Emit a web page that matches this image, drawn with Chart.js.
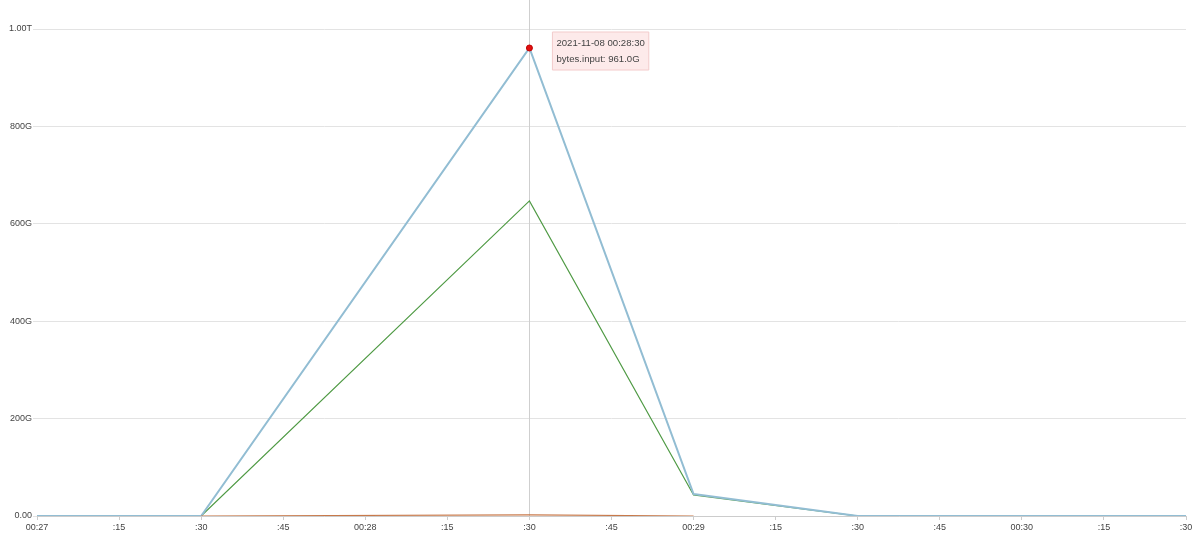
<!DOCTYPE html>
<html>
<head>
<meta charset="utf-8">
<script src="https://cdn.jsdelivr.net/npm/chart.js@4/dist/chart.umd.min.js"></script>
<style>
  html, body { margin: 0; padding: 0; background: #fff; }
  #wrap { width: 1200px; height: 552px; }
</style>
</head>
<body>
<div id="wrap"><canvas id="myChart" width="1200" height="552"></canvas></div>
<script>
// seconds after 00:27:00
const inputTimes = [0, 30, 90, 120, 150, 210];
const inputValues = [0, 0, 961, 45, 0, 0];      // bytes.input (G)
const greenTimes = [30, 90, 120, 150];
const greenValues = [0, 647, 43, 0];
const orangeTimes = [30, 90, 120];
const orangeValues = [0, 2.5, 0];

const tickLabels = ['00:27', ':15', ':30', ':45', '00:28', ':15', ':30', ':45',
                    '00:29', ':15', ':30', ':45', '00:30', ':15', ':30'];
const yTickLabels = { 0: '0.00', 200: '200G', 400: '400G', 600: '600G', 800: '800G', 1000: '1.00T' };
const tipTitle = '2021-11-08 00:28:30';
const tipLabel = 'bytes.input: 961.0G';

function toPoints(times, values) {
    return times.map((t, i) => ({ x: t, y: values[i] }));
}

Chart.Tooltip.positioners.beside = function(items) {
    if (!items.length) return false;
    const el = items[0].element;
    return { x: el.x + 23, y: el.y - 16 };
};

// vertical line at the hovered point
const crosshair = {
    id: 'crosshair',
    beforeDatasetsDraw(chart) {
        const act = chart.getActiveElements();
        if (!act.length) return;
        const x = act[0].element.x;
        const ctx = chart.ctx;
        ctx.save();
        ctx.strokeStyle = '#cfcfcf';
        ctx.lineWidth = 1;
        ctx.beginPath();
        ctx.moveTo(Math.round(x) + 0.5, 0);
        ctx.lineTo(Math.round(x) + 0.5, chart.chartArea.bottom + 4);
        ctx.stroke();
        ctx.restore();
    }
};

const tickFont = { family: 'Arial, "Liberation Sans"', size: 9 };

const data = {
    datasets: [
        {
            label: 'bytes.output',
            data: toPoints(orangeTimes, orangeValues),
            borderColor: '#c8794a',
            borderWidth: 1.2,
            pointRadius: 0,
            pointHoverRadius: 0,
            order: 0
        },
        {
            label: 'bytes.input',
            data: toPoints(inputTimes, inputValues),
            borderColor: '#92bdd3',
            borderWidth: 2,
            pointRadius: 0,
            pointHoverRadius: 3,
            pointHoverBackgroundColor: '#e01010',
            pointHoverBorderColor: '#c00000',
            pointHoverBorderWidth: 1,
            order: 1
        },
        {
            label: 'bytes.total',
            data: toPoints(greenTimes, greenValues),
            borderColor: '#4f9a44',
            borderWidth: 1.2,
            pointRadius: 0,
            pointHoverRadius: 0,
            order: 2
        }
    ]
};

const config = {
    type: 'line',
    data: data,
    options: {
        responsive: false,
        animation: false,
        layout: { padding: { top: 29, right: 14, left: 0, bottom: 0 } },
        interaction: { mode: 'nearest', intersect: false },
        plugins: {
            legend: { display: false },
            tooltip: {
                position: 'beside',
                xAlign: 'left',
                yAlign: 'top',
                caretSize: 0,
                caretPadding: 0,
                cornerRadius: 0,
                backgroundColor: 'rgba(253,232,232,0.9)',
                borderColor: '#f3cccc',
                borderWidth: 1,
                titleColor: '#444',
                bodyColor: '#444',
                titleFont: { family: 'Arial, "Liberation Sans"', size: 9.6, weight: 'normal' },
                bodyFont: { family: 'Arial, "Liberation Sans"', size: 9.6 },
                titleMarginBottom: 4,
                padding: { left: 4, right: 4, top: 6, bottom: 5 },
                displayColors: false,
                callbacks: {
                    title: () => tipTitle,
                    label: () => tipLabel
                }
            }
        },
        scales: {
            x: {
                type: 'linear',
                min: 0,
                max: 210,
                afterFit: (s) => { s.height = 36; },
                grid: { drawOnChartArea: false, color: '#cccccc', tickLength: 4 },
                border: { color: '#cccccc' },
                ticks: {
                    stepSize: 15,
                    maxRotation: 0,
                    autoSkip: false,
                    color: '#444',
                    padding: 2,
                    font: tickFont,
                    callback: (v) => tickLabels[Math.round(v / 15)]
                }
            },
            y: {
                min: 0,
                max: 1000,
                afterFit: (s) => { s.width = 37; },
                grid: { color: '#e3e3e3', tickLength: 4 },
                border: { display: false },
                ticks: {
                    stepSize: 200,
                    color: '#444',
                    padding: 1,
                    font: tickFont,
                    callback: (v) => yTickLabels[v]
                }
            }
        }
    },
    plugins: [crosshair]
};

var myChartJS = new Chart(document.getElementById('myChart'), config);

// show the hovered point at 00:28:30
const active = [{ datasetIndex: 1, index: 2 }];
myChartJS.setActiveElements(active);
myChartJS.tooltip.setActiveElements(active, { x: 0, y: 0 });
myChartJS.update();
</script>
</body>
</html>
